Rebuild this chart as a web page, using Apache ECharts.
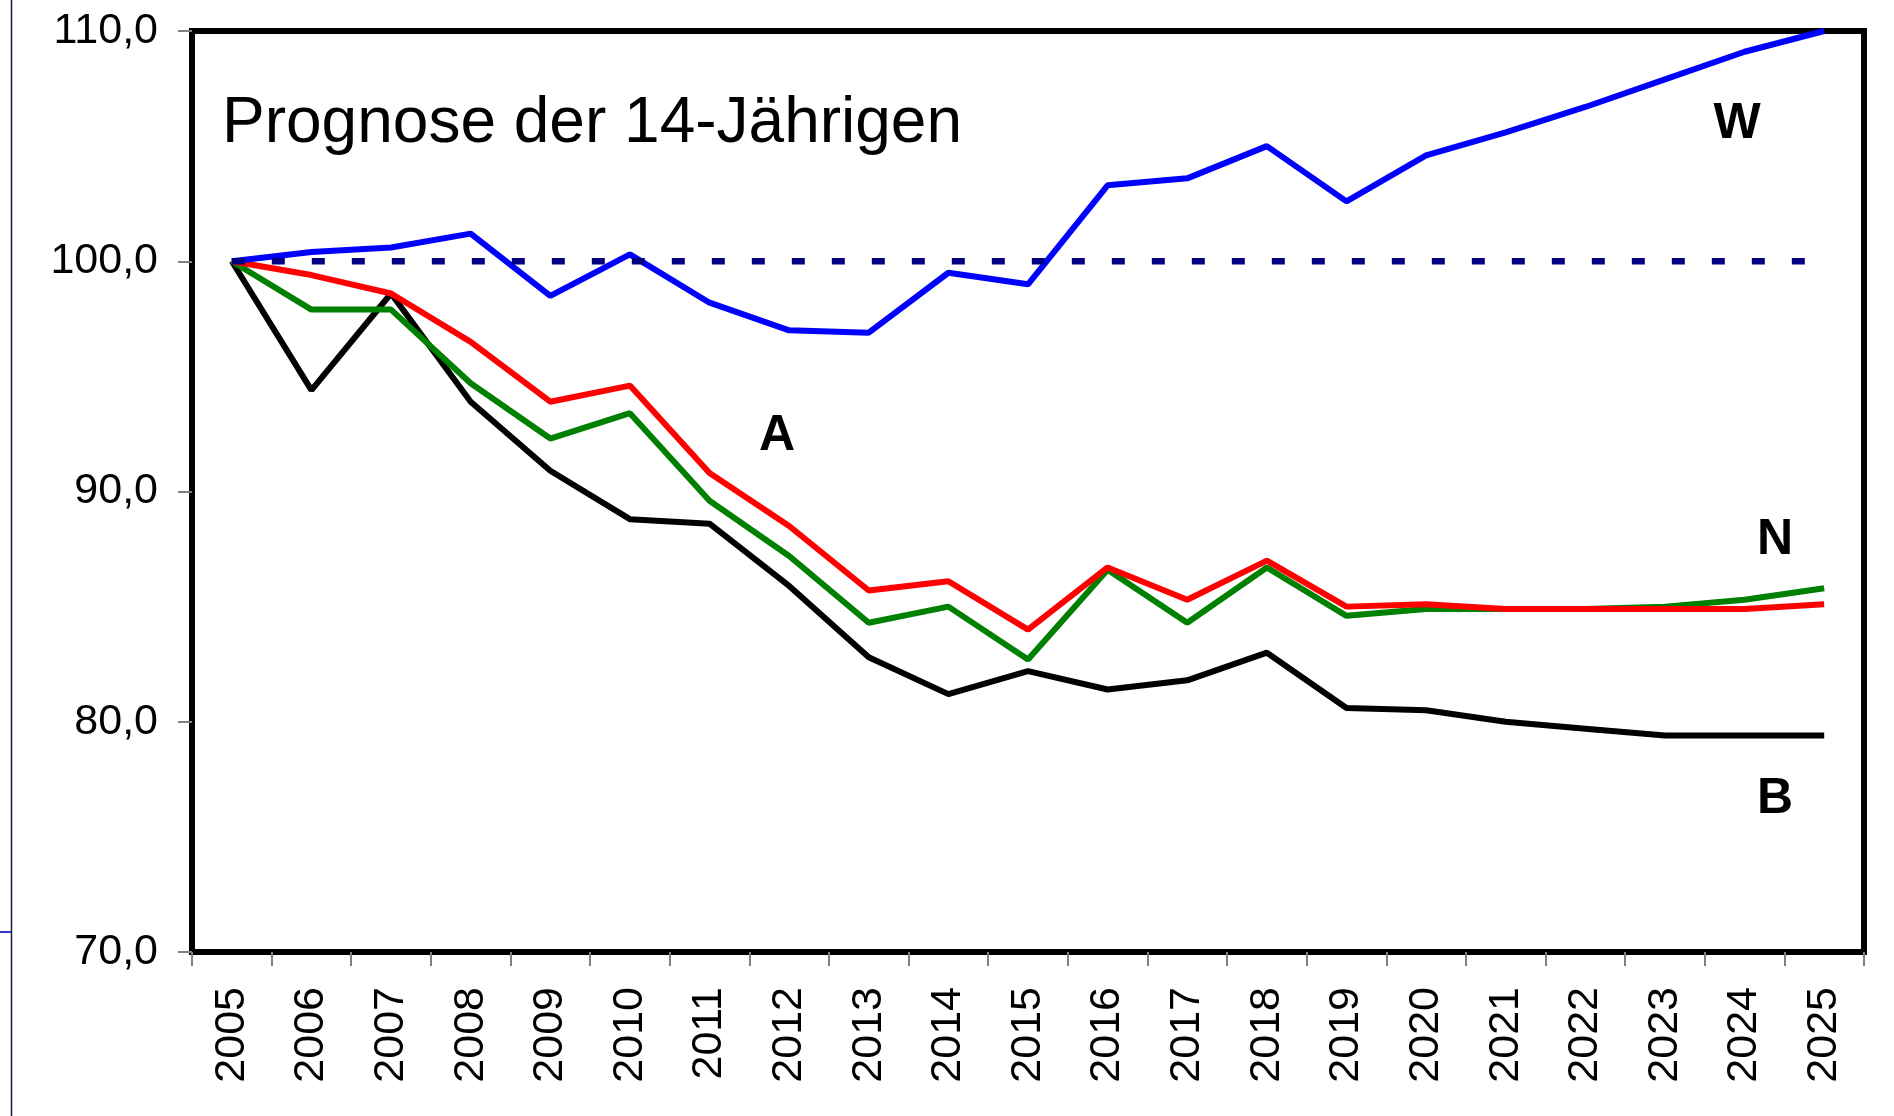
<!DOCTYPE html>
<html>
<head>
<meta charset="utf-8">
<title>Prognose der 14-Jährigen</title>
<script src="https://cdn.jsdelivr.net/npm/echarts@6/dist/echarts.min.js"></script>
<style>
  html, body { margin: 0; padding: 0; background: #fff; }
  #chart { width: 1894px; height: 1116px; }
</style>
</head>
<body>
<div id="chart"></div>
<script>
// Jahre (Kategorien)
const years = ['2005', '2006', '2007', '2008', '2009', '2010', '2011', '2012', '2013', '2014', '2015',
  '2016', '2017', '2018', '2019', '2020', '2021', '2022', '2023', '2024', '2025'];

// Index 2005 = 100
const valuesW = [100.0, 100.4, 100.6, 101.2, 98.5, 100.3, 98.2, 97.0, 96.9, 99.5, 99.0,
  103.3, 103.6, 105.0, 102.6, 104.6, 105.6, 106.7, 107.9, 109.1, 110.0];
const valuesA = [100.0, 99.4, 98.6, 96.5, 93.9, 94.6, 90.8, 88.5, 85.7, 86.1, 84.0,
  86.7, 85.3, 87.0, 85.0, 85.1, 84.9, 84.9, 84.9, 84.9, 85.1];
const valuesN = [100.0, 97.9, 97.9, 94.7, 92.3, 93.4, 89.6, 87.2, 84.3, 85.0, 82.7,
  86.6, 84.3, 86.7, 84.6, 84.9, 84.9, 84.9, 85.0, 85.3, 85.8];
const valuesB = [100.0, 94.4, 98.6, 93.9, 90.9, 88.8, 88.6, 85.9, 82.8, 81.2, 82.2,
  81.4, 81.8, 83.0, 80.6, 80.5, 80.0, 79.7, 79.4, 79.4, 79.4];
const baseline = [100, 100, 100, 100, 100, 100, 100, 100, 100, 100, 100,
  100, 100, 100, 100, 100, 100, 100, 100, 100, 100];

// Achse
const yTicks = [70, 80, 90, 100, 110];

const font = '"Liberation Sans", Arial, sans-serif';
const myChart = echarts.init(document.getElementById('chart'));

function lineSeries(name, data, color, z) {
  return {
    name: name,
    type: 'line',
    data: data,
    showSymbol: false,
    symbol: 'none',
    z: z,
    lineStyle: { color: color, width: 6 },
  };
}

function label(text, x, y) {
  return {
    type: 'text', x: x, y: y,
    style: { text: text, fill: '#000', font: 'bold 50px ' + font, textAlign: 'center', textVerticalAlign: 'middle' },
  };
}

const option = {
  animation: false,
  backgroundColor: '#ffffff',
  grid: {
    left: 192,
    right: 30,
    top: 31,
    bottom: 164,
    show: true,
    borderColor: '#000000',
    borderWidth: 6,
    backgroundColor: 'transparent',
  },
  xAxis: {
    type: 'category',
    data: years,
    boundaryGap: true,
    axisLine: { show: false },
    axisTick: {
      show: true,
      length: 14,
      lineStyle: { color: '#808080', width: 2 },
    },
    axisLabel: {
      rotate: 90,
      margin: 35,
      color: '#000000',
      fontSize: 43,
      fontFamily: font,
      interval: 0,
    },
    splitLine: { show: false },
  },
  yAxis: {
    type: 'value',
    min: yTicks[0],
    max: yTicks[yTicks.length - 1],
    interval: 10,
    axisLine: { show: false },
    axisTick: {
      show: true,
      length: 14,
      lineStyle: { color: '#808080', width: 2 },
    },
    axisLabel: {
      margin: 34,
      color: '#000000',
      fontSize: 43,
      fontFamily: font,
      formatter: function (v) {
        return v.toFixed(1).replace('.', ',');
      },
    },
    splitLine: { show: false },
  },
  series: [
    lineSeries('B', valuesB, '#000000', 2),
    lineSeries('N', valuesN, '#008000', 3),
    lineSeries('A', valuesA, '#ff0000', 4),
    lineSeries('W', valuesW, '#0000ff', 5),
    {
      name: 'Basis',
      type: 'line',
      data: baseline,
      showSymbol: false,
      symbol: 'none',
      z: 6,
      lineStyle: { color: '#000080', width: 6.5, type: [13, 27] },
    },
  ],
  graphic: [
    // Rand links (Folienrest)
    {
      type: 'line',
      shape: { x1: 11.5, y1: 0, x2: 11.5, y2: 1116 },
      style: { stroke: '#1a1a40', lineWidth: 1.5 },
    },
    {
      type: 'line',
      shape: { x1: 0, y1: 932, x2: 11, y2: 932 },
      style: { stroke: '#3333cc', lineWidth: 2 },
    },
    {
      type: 'text',
      left: 222,
      top: 92,
      style: {
        text: 'Prognose der 14-Jährigen',
        fill: '#000000',
        font: '64px ' + font,
      },
    },
    label('W', 1737, 124),
    label('A', 777, 436),
    label('N', 1775, 540),
    label('B', 1775, 799),
  ],
};

myChart.setOption(option);
</script>
</body>
</html>
